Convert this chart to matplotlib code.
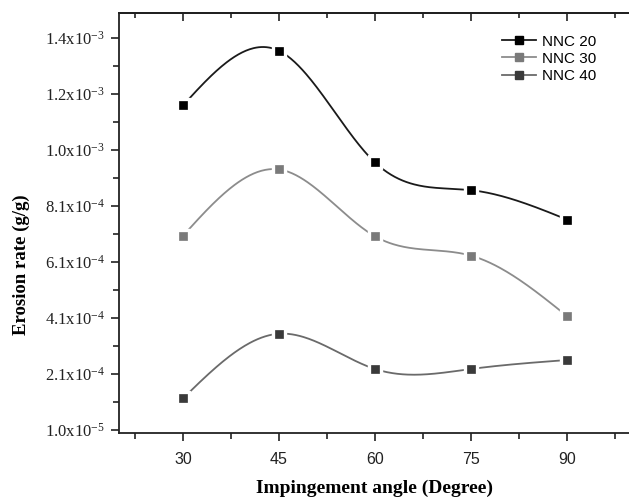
import numpy as np
import matplotlib
matplotlib.use("Agg")
import matplotlib.pyplot as plt
from matplotlib.ticker import FixedLocator, MultipleLocator, FixedFormatter

plt.rcParams['font.family'] = ['Liberation Serif', 'DejaVu Serif']
plt.rcParams['mathtext.fontset'] = 'custom'
plt.rcParams['mathtext.rm'] = 'Liberation Serif'
plt.rcParams['mathtext.it'] = 'Liberation Serif:italic'
plt.rcParams['mathtext.bf'] = 'Liberation Serif:bold'

# ---- data ----
angles = [30, 45, 60, 75, 90]
nnc20 = [1.170e-3, 1.365e-3, 0.966e-3, 0.867e-3, 0.762e-3]
nnc30 = [0.704e-3, 0.941e-3, 0.702e-3, 0.633e-3, 0.417e-3]
nnc40 = [0.123e-3, 0.354e-3, 0.228e-3, 0.228e-3, 0.260e-3]
series_names = ["NNC 20", "NNC 30", "NNC 40"]

ytick_vals = [1e-5, 2.1e-4, 4.1e-4, 6.1e-4, 8.1e-4, 1.01e-3, 1.21e-3, 1.41e-3]
ytick_labels = [r'$\mathregular{1.0x10^{-5}}$', r'$\mathregular{2.1x10^{-4}}$',
                r'$\mathregular{4.1x10^{-4}}$', r'$\mathregular{6.1x10^{-4}}$',
                r'$\mathregular{8.1x10^{-4}}$', r'$\mathregular{1.0x10^{-3}}$',
                r'$\mathregular{1.2x10^{-3}}$', r'$\mathregular{1.4x10^{-3}}$']
xtick_vals = [30, 45, 60, 75, 90]


def natural_spline(x, y, n=300):
    x = np.asarray(x, float)
    y = np.asarray(y, float)
    m = len(x)
    h = np.diff(x)
    A = np.zeros((m, m))
    b = np.zeros(m)
    A[0, 0] = 1
    A[-1, -1] = 1
    for i in range(1, m - 1):
        A[i, i - 1] = h[i - 1]
        A[i, i] = 2 * (h[i - 1] + h[i])
        A[i, i + 1] = h[i]
        b[i] = 6 * ((y[i + 1] - y[i]) / h[i] - (y[i] - y[i - 1]) / h[i - 1])
    M = np.linalg.solve(A, b)
    xs = np.linspace(x[0], x[-1], n)
    ys = np.empty_like(xs)
    for k, xv in enumerate(xs):
        i = min(np.searchsorted(x, xv, side='right') - 1, m - 2)
        t1 = x[i + 1] - xv
        t2 = xv - x[i]
        ys[k] = (M[i] * t1 ** 3 / (6 * h[i]) + M[i + 1] * t2 ** 3 / (6 * h[i])
                 + (y[i] / h[i] - M[i] * h[i] / 6) * t1
                 + (y[i + 1] / h[i] - M[i + 1] * h[i] / 6) * t2)
    return xs, ys


fig = plt.figure(figsize=(6.29, 5.0), dpi=100)
ax = fig.add_axes([119 / 629, 67 / 500, 512 / 629, 420 / 500])

styles = [
    dict(line='#1a1a1a', marker='#000000'),
    dict(line='#8c8c8c', marker='#7a7a7a'),
    dict(line='#6a6a6a', marker='#3a3a3a'),
]

for vals, name, st in zip([nnc20, nnc30, nnc40], series_names, styles):
    xs, ys = natural_spline(angles, vals)
    ax.plot(xs, ys, color=st['line'], lw=1.3, zorder=2)
    ax.plot(angles, vals, ls='none', marker='s', ms=10.5, color='white',
            mec='white', zorder=3)
    ax.plot(angles, vals, ls='none', marker='s', ms=6.3, color=st['marker'],
            mec=st['marker'], mew=0.5, zorder=4)
    ax.plot([], [], color=st['line'], lw=1.3, marker='s', ms=6.3,
            mfc=st['marker'], mec=st['marker'], label=name)

ax.set_xlim(20, 100)
ax.set_ylim(-7e-7, 1.5e-3)

ax.xaxis.set_major_locator(FixedLocator(xtick_vals))
ax.xaxis.set_minor_locator(MultipleLocator(7.5))
ax.set_xticklabels([str(v) for v in xtick_vals], fontfamily='Liberation Sans',
                   fontsize=11.5)
ax.yaxis.set_major_locator(FixedLocator(ytick_vals))
ax.yaxis.set_minor_locator(FixedLocator([v + 1e-4 for v in ytick_vals[:-1]]))
ax.yaxis.set_major_formatter(FixedFormatter(ytick_labels))
for lab in ax.get_yticklabels():
    lab.set_fontsize(12)
    lab.set_fontfamily('Liberation Serif')

ax.tick_params(axis='both', which='major', direction='out', length=6, width=1.2,
               colors='#222222', labelcolor='#222222')
ax.tick_params(axis='both', which='minor', direction='out', length=4, width=1.2,
               colors='#222222')
ax.tick_params(axis='x', which='major', pad=8)
ax.tick_params(axis='y', which='major', pad=4)

sec = ax.secondary_xaxis('top')
sec.xaxis.set_major_locator(FixedLocator(xtick_vals))
sec.xaxis.set_minor_locator(MultipleLocator(7.5))
sec.tick_params(which='major', direction='in', length=6, width=1.2, labeltop=False,
                colors='#222222')
sec.tick_params(which='minor', direction='in', length=3.5, width=1.2,
                colors='#222222')
sec.spines['top'].set_linewidth(1.3)

for s in ['left', 'bottom', 'top']:
    ax.spines[s].set_linewidth(1.3)
    ax.spines[s].set_color('#222222')
ax.spines['right'].set_visible(False)

ax.set_xlabel('Impingement angle (Degree)', fontfamily='Liberation Serif',
              fontweight='bold', fontsize=14)
ax.xaxis.set_label_coords((375 - 119) / 512, -(480 - 433) / 420)
ax.set_ylabel('Erosion rate (g/g)', fontfamily='Liberation Serif',
              fontweight='bold', fontsize=13.5)
ax.yaxis.set_label_coords(-(119 - 30) / 512, (433 - 265) / 420)

leg = ax.legend(loc='upper right', bbox_to_anchor=(0.95, 0.97), frameon=False,
                prop={'family': 'Liberation Sans', 'size': 11},
                handlelength=2.2, handletextpad=0.4, labelspacing=0.2,
                borderaxespad=0.2)

fig.savefig('out.png', dpi=100)
